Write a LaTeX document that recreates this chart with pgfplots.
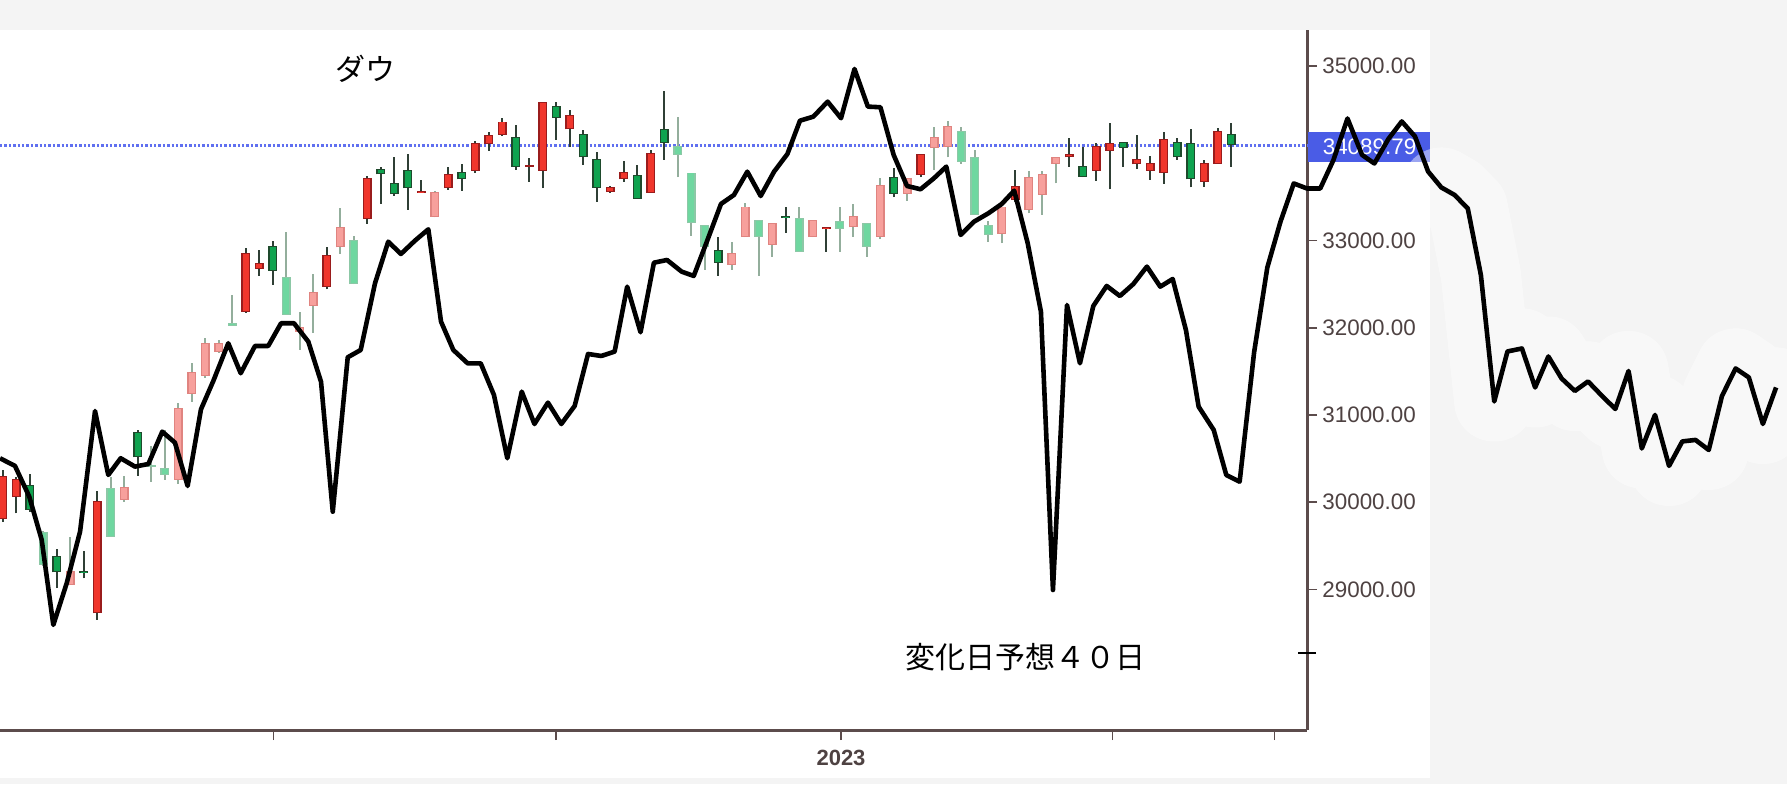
\documentclass[border=0pt]{standalone}
\usepackage{fontspec}
\setmainfont{Liberation Sans}
\newfontfamily\jp{Noto Sans CJK JP}
\usepackage{pgfplots}
\usepackage{pgfplotstable}
\pgfplotsset{compat=1.18}

\definecolor{Rf}{HTML}{F0362C}
\definecolor{Rb}{HTML}{9A1C1C}
\definecolor{rf}{HTML}{F7A09C}
\definecolor{rb}{HTML}{E08480}
\definecolor{Gf}{HTML}{0FA34F}
\definecolor{Gb}{HTML}{1E4A2C}
\definecolor{gf}{HTML}{6FD7A0}
\definecolor{gb}{HTML}{8CC8A6}
\definecolor{wickD}{HTML}{2F3F35}
\definecolor{wickL}{HTML}{93AE9C}
\definecolor{axisc}{HTML}{5C4C4C}
\definecolor{labc}{HTML}{4E4242}
\definecolor{bgc}{HTML}{F4F4F4}
\definecolor{pricebox}{HTML}{4A5CE6}
\definecolor{priceline}{HTML}{6070F0}

% daily candles, x = trading day index, columns: low high body-bottom body-top
% bright red (up)
\pgfplotstableread{
x l h b t
0 29773 30370 29808 30301
1 29873 30293 30057 30263
7 28649 30132 28726 30014
18 32174 32913 32185 32862
19 32595 32893 32672 32741
24 32442 32924 32472 32836
27 33191 33742 33249 33715
31 33547 33696 33547 33570
33 33581 33842 33601 33761
35 33780 34140 33803 34117
36 34029 34250 34109 34212
37 34201 34407 34212 34365
39 33676 33945 33848 33868
40 33601 34594 33803 34594
42 34078 34499 34277 34442
45 33547 33627 33555 33612
46 33676 33917 33704 33788
48 33547 34040 33550 34009
61 32874 33160 33134 33160
68 33727 33994 33753 33994
75 33447 33811 33467 33627
79 33848 34174 33956 33994
81 33688 34124 33803 34089
82 33589 34346 34032 34124
84 33819 34212 33876 33937
85 33696 33971 33803 33887
86 33650 34243 33780 34163
89 33619 33925 33676 33887
90 33879 34289 33879 34261
}\tabR
% light red
\pgfplotstableread{
x l h b t
5 29051 29598 29051 29215
9 30006 30301 30026 30171
13 30209 31135 30255 31077
14 31153 31600 31241 31497
15 31426 31884 31448 31830
16 31712 31861 31727 31830
22 31746 32185 31956 32013
23 31944 32618 32251 32408
25 32847 33371 32924 33160
32 33268 33570 33275 33558
54 32664 32988 32721 32855
55 33039 33436 33039 33390
57 32816 33206 32950 33206
60 33039 33237 33039 33237
63 33046 33417 33153 33283
65 33016 33715 33046 33639
67 33459 33715 33535 33715
69 33811 34308 34060 34186
70 33956 34376 34078 34315
74 32970 33390 33077 33390
76 33314 33799 33352 33734
77 33295 33799 33524 33765
78 33658 33963 33879 33963
}\tabr
% bright green (down)
\pgfplotstableread{
x l h b t
2 29891 30320 29911 30194
4 29013 29464 29196 29387
6 29127 29444 29185 29215
10 30301 30828 30515 30802
20 32492 32996 32652 32939
28 33421 33842 33761 33819
29 33512 33963 33532 33658
30 33352 33994 33601 33811
34 33570 33876 33704 33791
38 33811 34327 33848 34186
41 34155 34594 34404 34545
43 33868 34269 33956 34220
44 33447 34021 33608 33937
47 33478 33868 33478 33753
49 33925 34720 34117 34281
53 32595 33039 32747 32893
58 33091 33390 33257 33286
66 33498 33830 33535 33734
80 33727 34078 33734 33857
83 33848 34135 34060 34135
87 33925 34174 33956 34135
88 33612 34277 33704 34117
91 33848 34346 34097 34220
}\tabG
% light green
\pgfplotstableread{
x l h b t
3 29269 29670 29280 29662
8 29605 30293 29605 30167
11 30235 30645 30408 30427
12 30255 30828 30312 30396
17 32021 32377 32021 32056
21 32148 33096 32148 32587
26 32500 33054 32500 33008
50 33727 34422 33983 34086
51 33054 33780 33199 33780
52 32664 33180 32931 33180
56 32595 33237 33046 33237
59 32874 33390 32874 33257
62 32874 33383 33131 33229
64 32816 33199 32931 33199
71 33879 34308 33906 34261
72 33295 34040 33295 33956
73 32988 33229 33065 33180
}\tabg
% overlaid black line
\pgfplotstableread{
x y
-0.20 30504
0.91 30416
1.97 30063
2.89 29567
3.75 28592
4.74 29070
5.73 29662
6.84 31046
7.82 30312
8.74 30504
9.80 30408
10.79 30438
11.82 30809
12.76 30683
13.70 30186
14.69 31066
15.60 31390
16.71 31823
17.63 31479
18.69 31792
19.67 31792
20.62 32052
21.58 32052
22.64 31841
23.58 31382
24.45 29891
25.56 31662
26.52 31746
27.58 32511
28.56 32988
29.50 32847
30.54 33000
31.53 33130
32.47 32071
33.38 31746
34.44 31593
35.41 31593
36.39 31230
37.38 30504
38.45 31268
39.39 30897
40.39 31142
41.38 30897
42.37 31104
43.36 31700
44.34 31677
45.33 31727
46.26 32472
47.25 31949
48.24 32747
49.21 32778
50.30 32644
51.19 32595
52.21 33008
53.21 33421
54.17 33524
55.16 33791
56.15 33512
57.14 33791
58.13 33994
59.06 34376
60.05 34422
61.11 34594
62.10 34404
63.10 34969
64.09 34537
65.02 34530
66.00 33983
66.99 33627
67.99 33589
68.98 33715
69.90 33849
70.96 33065
71.96 33218
73.02 33314
74.01 33421
74.93 33573
75.93 32970
76.91 32185
77.80 28993
78.84 32262
79.80 31593
80.79 32251
81.78 32480
82.76 32365
83.76 32503
84.76 32702
85.75 32472
86.67 32560
87.65 31975
88.59 31096
89.71 30828
90.64 30312
91.63 30235
92.70 31717
93.68 32692
94.66 33220
95.64 33656
96.62 33598
97.60 33598
98.58 33925
99.62 34401
100.70 33983
101.61 33885
102.65 34166
103.64 34367
104.62 34195
105.59 33793
106.57 33610
107.55 33524
108.53 33369
109.50 32606
110.49 31155
111.47 31729
112.54 31763
113.52 31316
114.50 31671
115.48 31419
116.46 31276
117.44 31385
118.48 31218
119.46 31069
120.44 31505
121.42 30616
122.40 31001
123.44 30416
124.42 30697
125.40 30714
126.38 30599
127.36 31218
128.37 31534
129.35 31431
130.39 30897
131.37 31316
}\tabline

% wicks, body outline, body fill
\newcommand{\candles}[4]{%
  \addplot[draw=none, no markers, forget plot, error bars/.cd, y dir=plus, y explicit,
    error mark=none, error bar style={draw=#2, line width=1pt}]
    table[x=x, y=l, y error expr=\thisrow{h}-\thisrow{l}] {#1};
  \addplot[draw=none, no markers, forget plot, error bars/.cd, y dir=plus, y explicit,
    error mark=none, error bar style={draw=#3, line width=4.4pt}]
    table[x=x, y=b, y error expr=\thisrow{t}-\thisrow{b}] {#1};
  \addplot[draw=none, no markers, forget plot, error bars/.cd, y dir=plus, y explicit,
    error mark=none, error bar style={draw=#4, line width=3pt}]
    table[x=x, y expr=\thisrow{b}+10, y error expr={max(\thisrow{t}-\thisrow{b}-20,0)}] {#1};
}

\begin{document}
\begin{tikzpicture}
% page background and white chart panel
\fill[bgc] (0pt,-27pt) rectangle (893.5pt,365pt);
\fill[white] (0pt,-24pt) rectangle (715pt,350pt);
\begin{axis}[
    scale only axis,
    width=653.5pt, height=350pt,
    at={(0pt,0pt)}, anchor=south west,
    xmin=-0.2, xmax=96.62,
    ymin=27387, ymax=35416,
    clip=false,
    axis x line*=bottom, axis y line*=right,
    axis line style={draw=axisc, line width=1.5pt},
    tick align=outside,
    major tick length=5pt,
    tick style={draw=axisc, line width=0.8pt},
    xtick={20.06,41,62.1,82.2,94.2},
    xticklabels={,,2023,,},
    xticklabel style={font=\bfseries\fontsize{11}{11}\selectfont, text=labc, inner sep=0pt, yshift=-5pt},
    ytick={29000,30000,31000,32000,33000,35000},
    scaled y ticks=false,
    /pgf/number format/assume math mode=true,
    yticklabel style={font=\fontsize{11.2}{12}\selectfont, text=labc, anchor=west, inner sep=0pt, xshift=2.5pt,
      /pgf/number format/fixed, /pgf/number format/fixed zerofill,
      /pgf/number format/precision=2, /pgf/number format/1000 sep={}},
    extra y ticks={28270},
    extra y tick labels={},
    extra y tick style={tick align=center, major tick length=9pt, tick style={draw=black, line width=0.7pt}},
]
% current price line
\addplot[priceline, densely dotted, line width=1.2pt, forget plot] coordinates {(-0.2,34089.79) (96.62,34089.79)};

\candles{\tabr}{wickL}{rb}{rf}
\candles{\tabg}{wickL}{gb}{gf}
\candles{\tabR}{wickD}{Rb}{Rf}
\candles{\tabG}{wickD}{Gb}{Gf}

% price tag on the right axis
\fill[pricebox] (axis cs:96.69,34246) rectangle (axis cs:105.73,33902);
\node[anchor=west, inner sep=0pt, text=white, font=\fontsize{11.2}{12}\selectfont] at (axis cs:97.76,34074) {34089.79};

% soft halo of the pasted line outside the chart
\addplot[white, opacity=0.45, line width=40pt, line join=round, line cap=round, forget plot]
  table[x=x, y=y, restrict x to domain=106:132] {\tabline};

% overlaid line
\addplot[black, line width=2.3pt, line join=round, forget plot] table[x=x, y=y] {\tabline};

\node[font=\jp\fontsize{15}{15}\selectfont] at (axis cs:26.84,34975) {ダウ};
\node[font=\jp\fontsize{15}{15}\selectfont] at (axis cs:75.8,28219) {変化日予想４０日};
\end{axis}
\pgfresetboundingbox
\path[use as bounding box] (0pt,-27pt) rectangle (893.5pt,365pt);
\end{tikzpicture}
\end{document}
